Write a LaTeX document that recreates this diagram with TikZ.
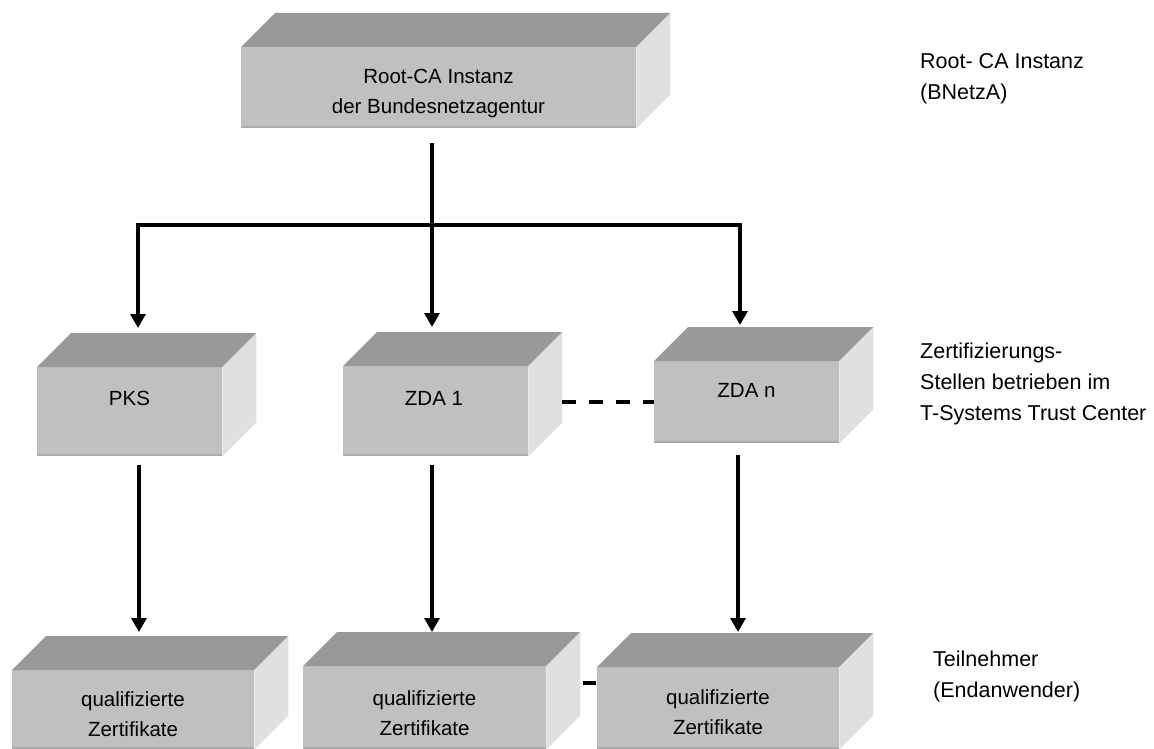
\documentclass[tikz,border=0pt]{standalone}
\usepackage{fontspec}
\setmainfont{Liberation Sans}
\usetikzlibrary{arrows.meta,calc}
\definecolor{topc}{HTML}{999999}
\definecolor{frontc}{HTML}{C0C0C0}
\definecolor{sidec}{HTML}{E0E0E0}
\definecolor{edgec}{HTML}{ABABAB}
\tikzset{
  frontface/.style={fill=frontc, draw=none, inner sep=0pt, anchor=north west},
  boxtext/.style={align=center, inner sep=0pt, font=\fontsize{20.5pt}{30pt}\selectfont},
  sidelabel/.style={align=left, inner sep=0pt, anchor=north west, font=\fontsize{21.5pt}{31pt}\selectfont},
  conn/.style={line width=3.3pt, black},
  arr/.style={conn, -{Triangle[length=14pt, width=15pt]}},
  rake/.style={conn, {Triangle[length=14pt, width=15pt]}-{Triangle[length=14pt, width=15pt]}},
  dashline/.style={conn, line width=3.6pt, dash pattern=on 13.5pt off 13.5pt}
}
\newcommand\cubebox[5]{%
  \node[frontface, minimum width=#4pt, minimum height=#5pt] (#1) at (#2,#3) {};
  \fill[topc] (#1.north west) -- ++(34,-34) -- ($(#1.north east)+(34,-34)$) -- (#1.north east) -- cycle;
  \fill[sidec] (#1.north east) -- ++(34,-34) -- ($(#1.south east)+(34,-34)$) -- (#1.south east) -- cycle;
  \draw[edgec, line width=2pt] ([yshift=1pt]#1.south west) -- ([yshift=1pt]#1.south east);
}
\begin{document}
\begin{tikzpicture}[x=1pt, y=-1pt]
\useasboundingbox (0,0) rectangle (1154,749);
% boxes
\cubebox{root}{241}{47}{395}{81}
\cubebox{pks}{37}{367}{185}{89}
\cubebox{zda1}{343}{366}{185}{90}
\cubebox{zdan}{654}{361}{185}{82}
\cubebox{q1}{12}{670}{242}{79}
\cubebox{q2}{303}{666}{243}{83}
\cubebox{q3}{597}{667}{242}{82}
% box texts
\node[boxtext] (roott) at (438.5,93) {Root-CA Instanz\\der Bundesnetzagentur};
\node[boxtext] (pkst) at (129.5,398) {PKS};
\node[boxtext] (zda1t) at (434,398) {ZDA 1};
\node[boxtext] (zdant) at (746.5,390) {ZDA n};
\node[boxtext] (q1t) at (133,714) {qualifizierte\\Zertifikate};
\node[boxtext] (q2t) at (424.5,713) {qualifizierte\\Zertifikate};
\node[boxtext] (q3t) at (718,712) {qualifizierte\\Zertifikate};
% side labels
\node[sidelabel] (l1) at (920,53) {Root- CA Instanz\\(BNetzA)};
\node[sidelabel] (l2) at (920,343) {Zertifizierungs-\\Stellen betrieben im\\T-Systems Trust Center};
\node[sidelabel] (l3) at (933,651) {Teilnehmer\\(Endanwender)};
% connector coordinates
\coordinate (jc) at (432,225);
\coordinate (jl) at (138,225);
\coordinate (jr) at (740,225);
\coordinate (c1) at (139,0);
\coordinate (c2) at (432,0);
\coordinate (c3) at (738,0);
\coordinate (dq) at (0,683);
% top connectors
\draw[conn, shorten <=15pt] (root.south -| jc) -- (jc);
\draw[rake, shorten <=39pt, shorten >=36pt] (pks.north -| jl) |- (jc) -| (zdan.north -| jr);
\draw[arr, shorten >=39pt] (jc) -- (zda1.north -| jc);
% lower connectors
\draw[arr, shorten <=9pt, shorten >=38pt] (pks.south -| c1) -- (q1.north -| c1);
\draw[arr, shorten <=9pt, shorten >=34pt] (zda1.south -| c2) -- (q2.north -| c2);
\draw[arr, shorten <=12pt, shorten >=35pt] (zdan.south -| c3) -- (q3.north -| c3);
% dashed links
\draw[dashline, shorten <=34pt] (zdan.west -| zda1.east) -- (zdan.west);
\draw[conn, line width=3.6pt, dash pattern=on 13pt off 13pt, dash phase=24pt, shorten <=35pt] (q2.east |- dq) -- (q3.west |- dq);
\end{tikzpicture}
\end{document}
